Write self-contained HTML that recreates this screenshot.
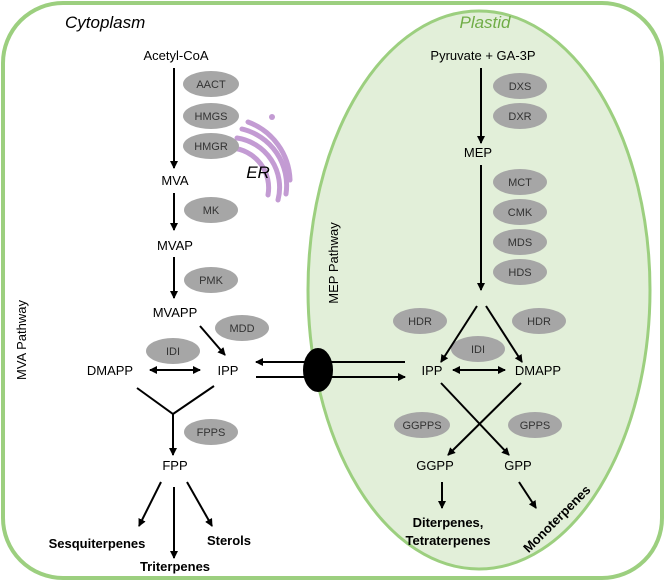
<!DOCTYPE html>
<html><head><style>body{margin:0;background:#fff}svg{display:block}text{font-family:"Liberation Sans",Arial,sans-serif}</style></head>
<body>
<svg width="666" height="582" viewBox="0 0 666 582" xmlns="http://www.w3.org/2000/svg">
<defs><marker id="a" markerWidth="8" markerHeight="8" refX="7" refY="4" orient="auto" markerUnits="userSpaceOnUse"><path d="M0,0 L8,4 L0,8 z" fill="#000"/></marker>
<marker id="s" markerWidth="8" markerHeight="8" refX="1" refY="4" orient="auto" markerUnits="userSpaceOnUse"><path d="M8,0 L0,4 L8,8 z" fill="#000"/></marker></defs>
<rect x="3" y="3" width="659" height="575" rx="60" fill="#fff" stroke="#9ccf7f" stroke-width="4"/>
<ellipse cx="479" cy="290" rx="171" ry="279" fill="#e2efd9" stroke="#9ccf7f" stroke-width="3"/>
<g fill="none" stroke="#c39bd3" stroke-width="5" stroke-linecap="round">
<path d="M232,148 A40,40 0 0 1 268,195"/>
<path d="M237,138 A50,50 0 0 1 278,200"/>
<path d="M242,129 A58,58 0 0 1 286,194"/>
<path d="M248,122 A64,64 0 0 1 290,180"/>
</g>
<circle cx="272" cy="117" r="3" fill="#c39bd3"/>
<g font-size="13" fill="#000" text-anchor="middle">
<text x="65" y="28" font-size="17" font-style="italic" text-anchor="start">Cytoplasm</text>
<text x="485" y="28" font-size="17" font-style="italic" fill="#70ad47">Plastid</text>
<text x="176" y="60">Acetyl-CoA</text>
<text x="175" y="185">MVA</text>
<text x="175" y="250">MVAP</text>
<text x="175" y="317">MVAPP</text>
<text x="110" y="375">DMAPP</text>
<text x="228" y="375">IPP</text>
<text x="175" y="470">FPP</text>
<text x="483" y="60">Pyruvate + GA-3P</text>
<text x="478" y="157">MEP</text>
<text x="432" y="375">IPP</text>
<text x="538" y="375">DMAPP</text>
<text x="435" y="470">GGPP</text>
<text x="518" y="470">GPP</text>
<text x="258" y="178" font-size="17" font-style="italic">ER</text>
<g font-weight="bold">
<text x="97" y="548">Sesquiterpenes</text>
<text x="229" y="545">Sterols</text>
<text x="175" y="571">Triterpenes</text>
<text x="448" y="527">Diterpenes,</text>
<text x="448" y="545">Tetraterpenes</text>
<text x="560" y="522" transform="rotate(-45 560 522)">Monoterpenes</text>
</g>
<text x="26" y="340" transform="rotate(-90 26 340)">MVA Pathway</text>
<text x="338" y="263" transform="rotate(-90 338 263)">MEP Pathway</text>
</g>
<g fill="#a6a6a6">
<ellipse cx="211" cy="84" rx="28" ry="13"/><ellipse cx="211" cy="116" rx="28" ry="13"/><ellipse cx="211" cy="146" rx="28" ry="13"/>
<ellipse cx="211" cy="210" rx="27" ry="13"/><ellipse cx="211" cy="280" rx="27" ry="13"/>
<ellipse cx="242" cy="328" rx="27" ry="13"/><ellipse cx="173" cy="351" rx="27" ry="13"/><ellipse cx="211" cy="432" rx="27" ry="13"/>
<ellipse cx="520" cy="86" rx="27" ry="13"/><ellipse cx="520" cy="116" rx="27" ry="13"/>
<ellipse cx="520" cy="182" rx="27" ry="13"/><ellipse cx="520" cy="212" rx="27" ry="13"/><ellipse cx="520" cy="242" rx="27" ry="13"/><ellipse cx="520" cy="272" rx="27" ry="13"/>
<ellipse cx="420" cy="321" rx="27" ry="13"/><ellipse cx="539" cy="321" rx="27" ry="13"/><ellipse cx="478" cy="349" rx="27" ry="13"/>
<ellipse cx="422" cy="425" rx="28" ry="13"/><ellipse cx="535" cy="425" rx="27" ry="13"/>
</g>
<g font-size="11" fill="#333" text-anchor="middle">
<text x="211" y="88">AACT</text><text x="211" y="120">HMGS</text><text x="211" y="150">HMGR</text>
<text x="211" y="214">MK</text><text x="211" y="284">PMK</text><text x="242" y="332">MDD</text><text x="173" y="355">IDI</text><text x="211" y="436">FPPS</text>
<text x="520" y="90">DXS</text><text x="520" y="120">DXR</text><text x="520" y="186">MCT</text><text x="520" y="216">CMK</text><text x="520" y="246">MDS</text><text x="520" y="276">HDS</text>
<text x="420" y="325">HDR</text><text x="539" y="325">HDR</text><text x="478" y="353">IDI</text><text x="422" y="429">GGPPS</text><text x="535" y="429">GPPS</text>
</g>
<g stroke="#000" stroke-width="2" fill="none">
<line x1="174" y1="68" x2="174" y2="168" marker-end="url(#a)"/>
<line x1="174" y1="193" x2="174" y2="230" marker-end="url(#a)"/>
<line x1="174" y1="257" x2="174" y2="298" marker-end="url(#a)"/>
<line x1="200" y1="326" x2="225" y2="355" marker-end="url(#a)"/>
<line x1="150" y1="370" x2="200" y2="370" marker-start="url(#s)" marker-end="url(#a)"/>
<polyline points="137,388 173,414 214,386"/>
<line x1="173" y1="414" x2="173" y2="455" marker-end="url(#a)"/>
<line x1="161" y1="482" x2="139" y2="526" marker-end="url(#a)"/>
<line x1="174" y1="487" x2="174" y2="558" marker-end="url(#a)"/>
<line x1="187" y1="482" x2="212" y2="526" marker-end="url(#a)"/>
<line x1="405" y1="362" x2="256" y2="362" marker-end="url(#a)"/>
<line x1="256" y1="377" x2="405" y2="377" marker-end="url(#a)"/>
<line x1="481" y1="68" x2="481" y2="143" marker-end="url(#a)"/>
<line x1="481" y1="165" x2="481" y2="290" marker-end="url(#a)"/>
<line x1="477" y1="306" x2="441" y2="362" marker-end="url(#a)"/>
<line x1="486" y1="306" x2="522" y2="362" marker-end="url(#a)"/>
<line x1="453" y1="370" x2="505" y2="370" marker-start="url(#s)" marker-end="url(#a)"/>
<line x1="441" y1="383" x2="509" y2="455" marker-end="url(#a)"/>
<line x1="521" y1="383" x2="448" y2="455" marker-end="url(#a)"/>
<line x1="442" y1="482" x2="442" y2="508" marker-end="url(#a)"/>
<line x1="519" y1="482" x2="536" y2="508" marker-end="url(#a)"/>
</g>
<ellipse cx="318" cy="370" rx="15" ry="22" fill="#000"/>
</svg>
</body></html>
